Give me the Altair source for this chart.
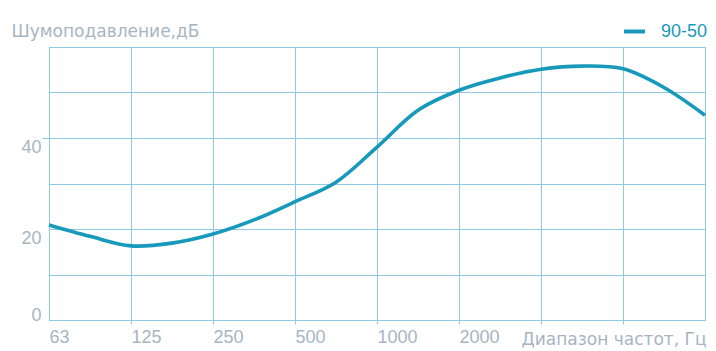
import altair as alt
import pandas as pd

# x positions on an octave grid (0 = 63 Hz ... 8 = 16000 Hz), sampled at half-octave steps
pos = [0, 0.5, 1, 1.5, 2, 2.5, 3, 3.5, 4, 4.5, 5, 5.5, 6, 6.5, 7, 7.5, 8]
noise_db = [20.9, 18.4, 16.3, 16.9, 18.9, 22.0, 26.0, 30.3, 38.0, 46.1, 50.5, 53.2, 55.1, 55.8, 55.2, 51.1, 45.0]
series = ["90-50"] * len(pos)

tick_labels = ["63", "125", "250", "500", "1000", "2000", "", "", ""]

df = pd.DataFrame({"pos": pos, "db": noise_db, "series": series})

GRID = "#8ccbe1"
TXT = "#a7b5c2"
LINE = "#1799bb"
FONT = "Liberation Sans"
TFONT = "DejaVu Sans"

label_expr = "[" + ",".join(f"'{t}'" for t in tick_labels) + "][datum.value]"

chart = alt.Chart(df).mark_line(
    interpolate="catmull-rom", strokeWidth=3.6, color=LINE
).encode(
    x=alt.X(
        "pos:Q",
        scale=alt.Scale(domain=[0, 8], nice=False, zero=False),
        axis=alt.Axis(
            values=list(range(9)),
            labelExpr=label_expr,
            labelAlign="left",
            labelBaseline="top",
            labelFont=FONT,
            labelFontSize=18,
            labelColor=TXT,
            labelPadding=4,
            labelOverlap=False,
            tickSize=4,
            tickColor=GRID,
            tickOpacity={"condition": {"test": "datum.value > 0 && datum.value < 8", "value": 1}, "value": 0},
            gridColor=GRID,
            gridOpacity=1,
            domain=False,
            title="Диапазон частот, Гц",
            titleFont=TFONT,
            titleFontSize=17,
            titleFontWeight="normal",
            titleColor=TXT,
            titleAnchor="end",
            titleAlign="right",
            titleBaseline="alphabetic",
            titleX=657,
            titleY=24,
        ),
    ),
    y=alt.Y(
        "db:Q",
        scale=alt.Scale(domain=[0, 60], nice=False),
        axis=alt.Axis(
            values=[0, 10, 20, 30, 40, 50, 60],
            labelExpr="(datum.value == 0 || datum.value == 20 || datum.value == 40) ? datum.label : ''",
            labelBaseline={"condition": {"test": "datum.value == 0", "value": "alphabetic"}, "value": "top"},
            labelFont=FONT,
            labelFontSize=18,
            labelColor=TXT,
            labelPadding=1,
            tickSize=7,
            tickColor=GRID,
            tickOpacity={"condition": {"test": "datum.value == 40", "value": 1}, "value": 0},
            gridColor=GRID,
            gridOpacity=1,
            domain=False,
            title="Шумоподавление,дБ",
            titleFont=TFONT,
            titleFontSize=17,
            titleFontWeight="normal",
            titleColor=TXT,
            titleAngle=0,
            titleAlign="left",
            titleBaseline="alphabetic",
            titleX=-38,
            titleY=-11,
        ),
    ),
    color=alt.Color(
        "series:N",
        scale=alt.Scale(range=[LINE]),
        legend=alt.Legend(
            title=None,
            orient="none",
            legendX=573,
            legendY=-28,
            symbolType="stroke",
            symbolSize=441,
            symbolStrokeWidth=4,
            symbolStrokeColor=LINE,
            labelFont=FONT,
            labelFontSize=18,
            labelColor=LINE,
            labelOffset=14,
            padding=0,
        ),
    ),
).properties(
    width=656,
    height=273,
    padding={"left": 41, "top": 39, "right": 3, "bottom": 30},
    autosize=alt.AutoSizeParams(type="none"),
).configure_view(stroke=None).configure(background="white")

chart.save("out.html", embed_options={"renderer": "svg", "actions": False})
